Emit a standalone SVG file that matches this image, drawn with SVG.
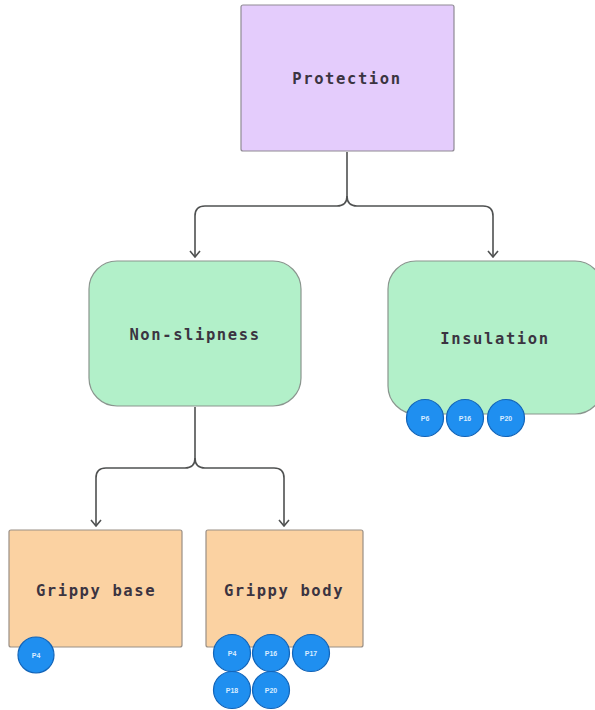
<svg xmlns="http://www.w3.org/2000/svg" width="595" height="710" viewBox="0 0 595 710">
  <style>
    .label { font-family: "DejaVu Sans Mono", "Liberation Mono", monospace; font-size: 15.5px; font-weight: bold; letter-spacing: 1.6px; fill: #3b3441; text-anchor: middle; dominant-baseline: central; }
    .root { fill: #e4ccfc; stroke: #8f8a94; stroke-width: 1.2; }
    .mid { fill: #b2f0c9; stroke: #8a958e; stroke-width: 1.2; }
    .leaf { fill: #fbd2a2; stroke: #9a8f85; stroke-width: 1.2; }
    .badge circle { fill: #1f8ff0; stroke: #1264b8; stroke-width: 1.2; }
    .badge text { font-family: "Liberation Sans", Arial, sans-serif; font-size: 7px; font-weight: bold; fill: #d8ecff; text-anchor: middle; dominant-baseline: central; }
    .conn { fill: none; stroke: #4f5151; stroke-width: 1.6; }
  </style>
  <defs>
    <!-- open chevron arrowhead, drawn pointing along +x -->
    <marker id="arrow" viewBox="0 0 12 12" refX="11" refY="6" markerWidth="12" markerHeight="12" markerUnits="userSpaceOnUse" orient="auto">
      <path d="M5 1 L11 6 L5 11" fill="none" stroke="#4f5151" stroke-width="1.6"/>
    </marker>
  </defs>

  <g id="connectors">
    <path class="conn" d="M347 152 V196 Q347 206 337 206 H205 Q195 206 195 216 V257" marker-end="url(#arrow)"/>
    <path class="conn" d="M347 196 Q347 206 357 206 H483 Q493 206 493 216 V257" marker-end="url(#arrow)"/>
    <path class="conn" d="M195 407 V458 Q195 468 185 468 H106 Q96 468 96 478 V526" marker-end="url(#arrow)"/>
    <path class="conn" d="M195 458 Q195 468 205 468 H274 Q284 468 284 478 V526" marker-end="url(#arrow)"/>
  </g>

  <g id="protection">
    <rect class="root" x="241" y="5" width="213" height="146" rx="2"/>
    <text class="label" x="347" y="79">Protection</text>
  </g>

  <g id="non-slipness">
    <rect class="mid" x="89" y="261" width="212" height="145" rx="28"/>
    <text class="label" x="195" y="335">Non-slipness</text>
  </g>

  <g id="insulation">
    <rect class="mid" x="388" y="261" width="215" height="153" rx="28"/>
    <text class="label" x="495" y="339">Insulation</text>
    <g class="badge"><circle cx="425" cy="418" r="18.5"/><text x="425" y="418">P6</text></g>
    <g class="badge"><circle cx="465" cy="418" r="18.5"/><text x="465" y="418">P16</text></g>
    <g class="badge"><circle cx="506" cy="418" r="18.5"/><text x="506" y="418">P20</text></g>
  </g>

  <g id="grippy-base">
    <rect class="leaf" x="9" y="530" width="173" height="117" rx="2"/>
    <text class="label" x="96" y="591">Grippy base</text>
    <g class="badge"><circle cx="36" cy="655" r="18"/><text x="36" y="655">P4</text></g>
  </g>

  <g id="grippy-body">
    <rect class="leaf" x="206" y="530" width="157" height="117" rx="2"/>
    <text class="label" x="284" y="591">Grippy body</text>
    <g class="badge"><circle cx="232" cy="653" r="18.5"/><text x="232" y="653">P4</text></g>
    <g class="badge"><circle cx="271" cy="653" r="18.5"/><text x="271" y="653">P16</text></g>
    <g class="badge"><circle cx="311" cy="653" r="18.5"/><text x="311" y="653">P17</text></g>
    <g class="badge"><circle cx="232" cy="690" r="18.5"/><text x="232" y="690">P18</text></g>
    <g class="badge"><circle cx="271" cy="690" r="18.5"/><text x="271" y="690">P20</text></g>
  </g>
</svg>
